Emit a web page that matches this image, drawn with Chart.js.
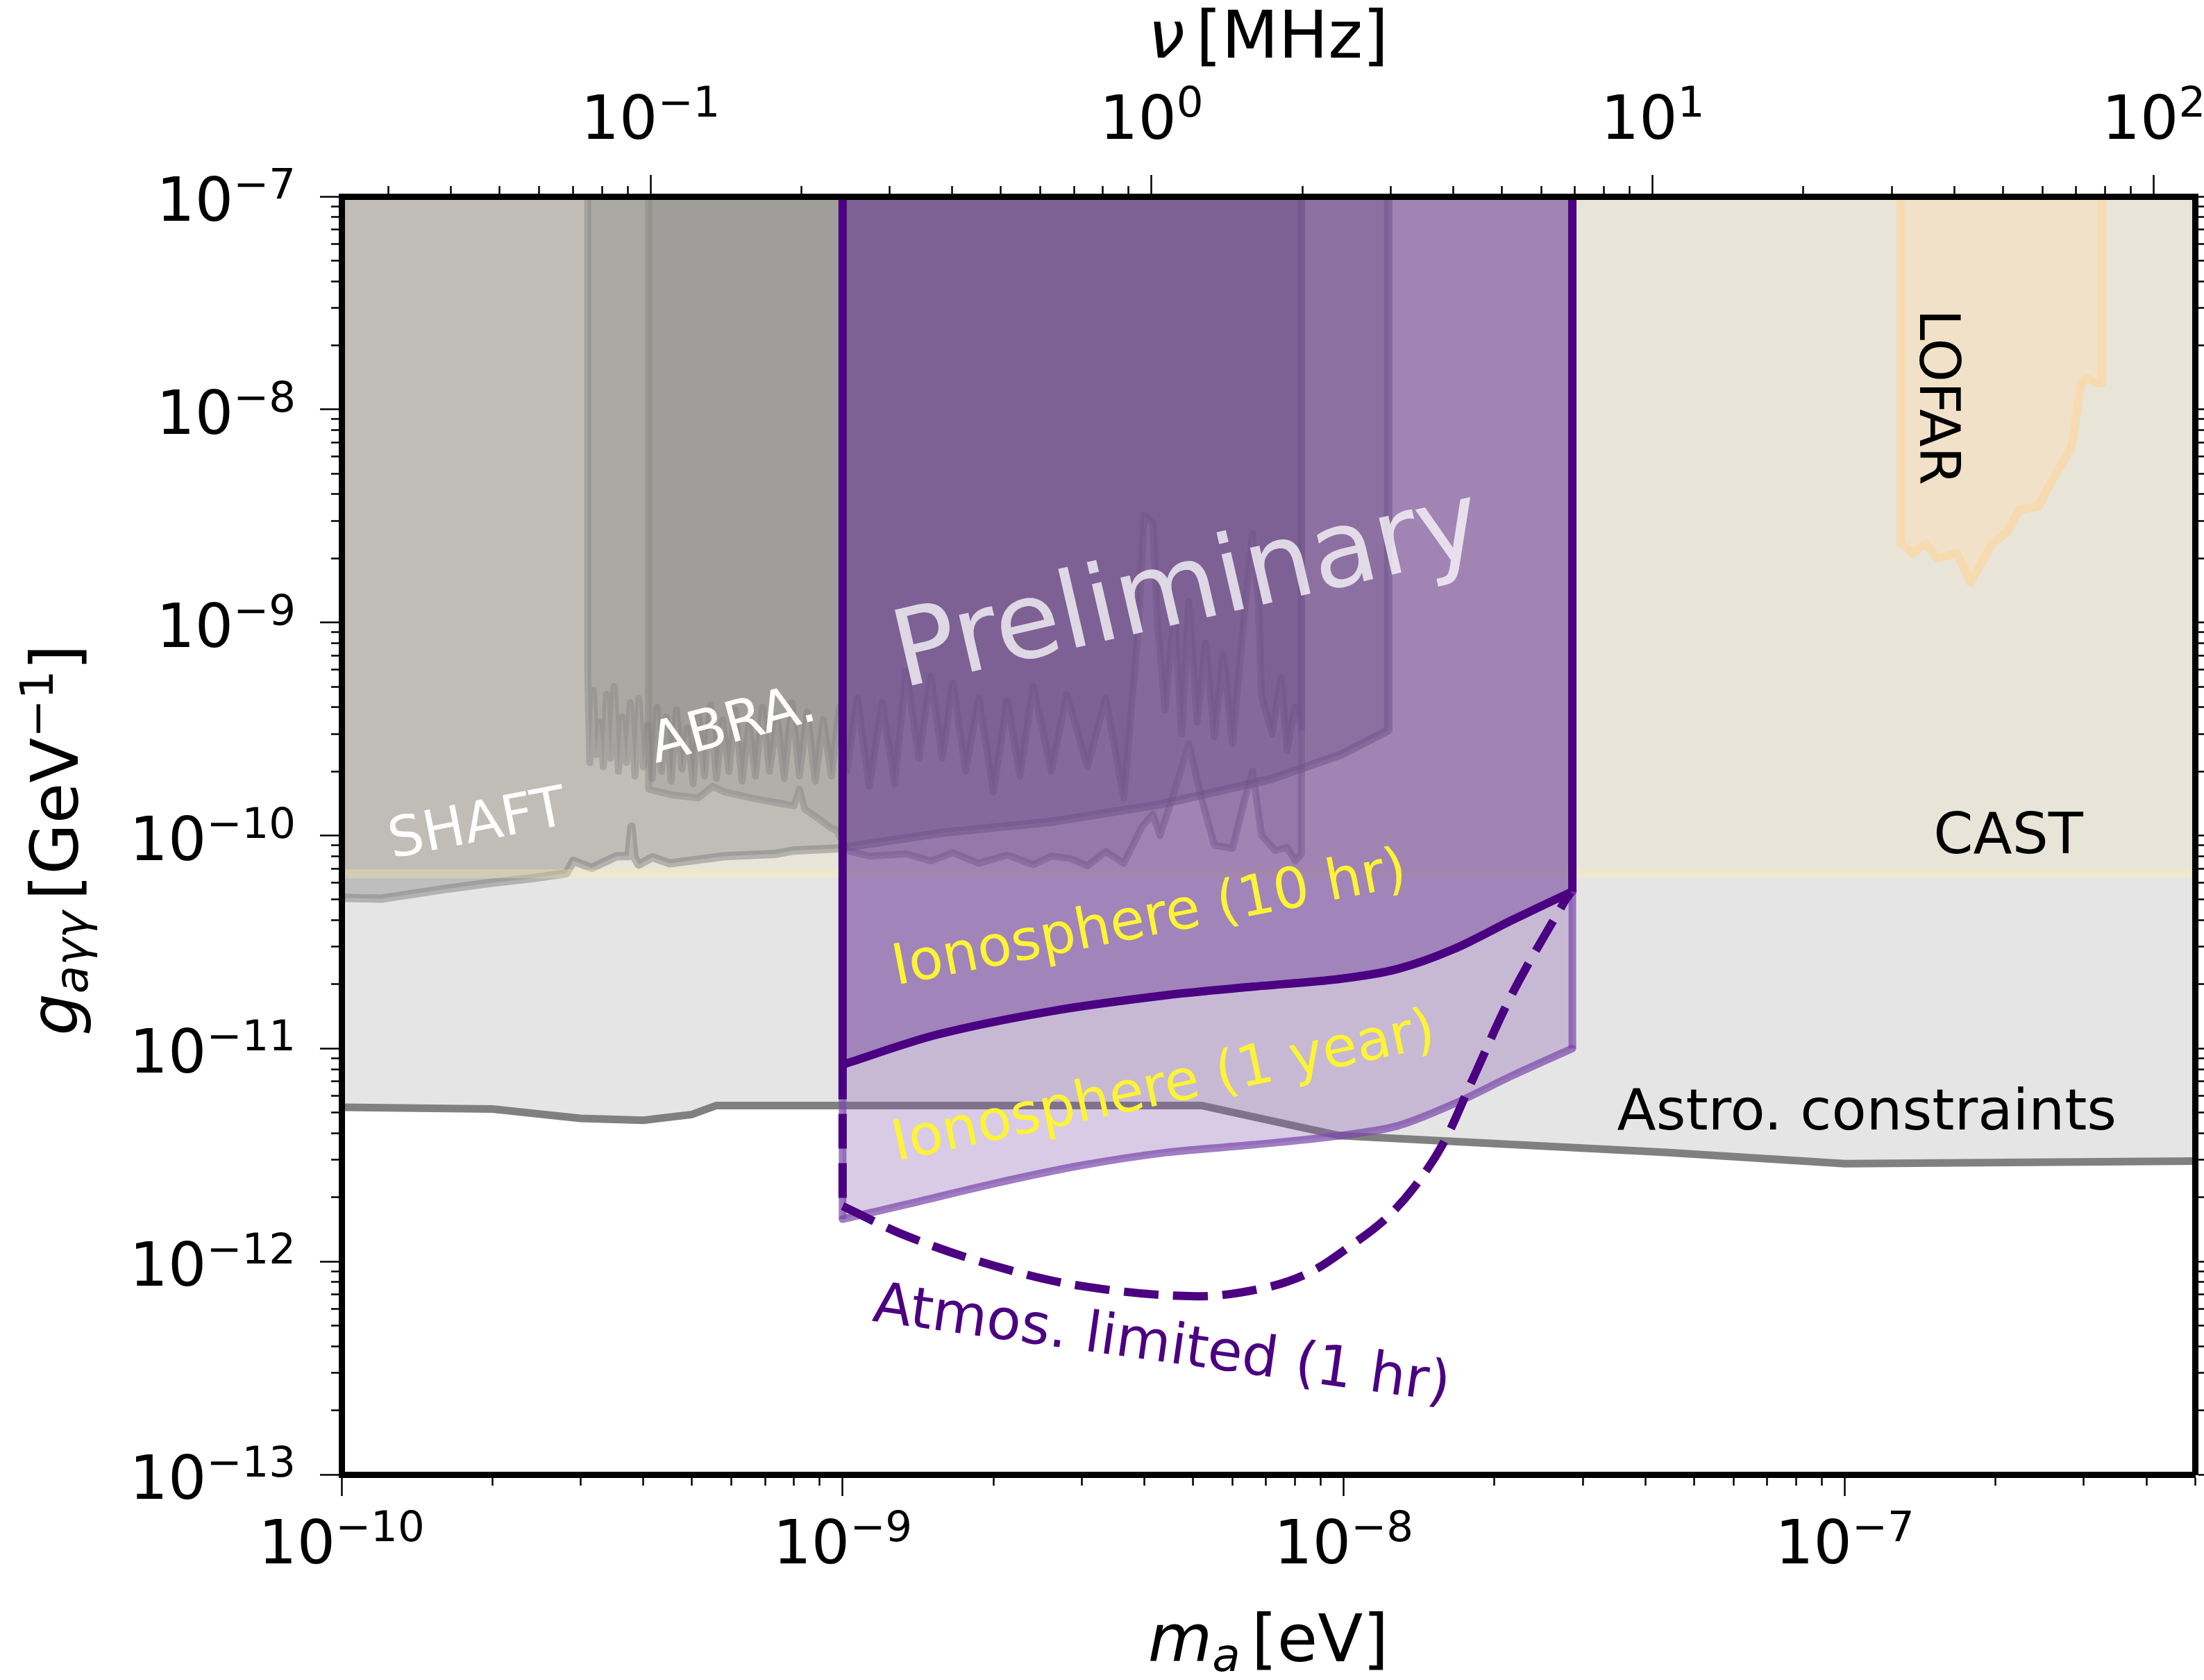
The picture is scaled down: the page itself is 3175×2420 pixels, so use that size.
<!DOCTYPE html>
<html>
<head>
<meta charset="utf-8">
<title>Axion-photon coupling limits</title>
<script src="https://cdn.jsdelivr.net/npm/chart.js@4.4.1/dist/chart.umd.min.js"></script>
<style>
  html, body { margin: 0; padding: 0; background: #fff; }
  #wrap { width: 3175px; height: 2420px; }
</style>
</head>
<body>
<div id="wrap"><canvas id="chart" width="3175" height="2420"></canvas></div>
<script>
// plot ranges
const massRange = [1e-10, 5e-7];        // m_a [eV]
const couplingRange = [1e-13, 1e-7];    // g [GeV^-1]

// tick labels (decades, written as exponents of 10)
const massTickExps = [-10, -9, -8, -7];
const couplingTickExps = [-13, -12, -11, -10, -9, -8, -7];
const freqTickExps = [-1, 0, 1, 2];     // nu [MHz]

// astrophysical bound
const astroMass = [1e-10, 2e-10, 3e-10, 4e-10, 5e-10, 5.6e-10, 5.2e-9, 9.8e-9, 4.4e-8, 1e-7, 5e-7];
const astroG = [5.3e-12, 5.2e-12, 4.7e-12, 4.6e-12, 4.9e-12, 5.4e-12, 5.4e-12, 3.9e-12, 3.25e-12, 2.88e-12, 2.96e-12];

// CAST
const castMass = [1e-10, 5e-7];
const castG = [6.6e-11, 6.6e-11];

// SHAFT
const shaftMass = [1e-10, 1.2e-10, 1.6e-10, 2e-10, 2.4e-10, 2.81e-10, 2.9e-10, 3.16e-10, 3.54e-10, 3.74e-10, 3.79e-10, 3.84e-10, 3.92e-10, 4.17e-10, 4.52e-10, 5.82e-10, 7.36e-10, 7.98e-10, 9.82e-10, 1.58e-9, 2.61e-9, 4.31e-9, 7.1e-9, 9.89e-9, 1.227e-8, 1.227e-8];
const shaftG = [5.1e-11, 5.05e-11, 5.6e-11, 6.0e-11, 6.3e-11, 6.64e-11, 7.6e-11, 7.05e-11, 8.0e-11, 8.0e-11, 1.1e-10, 7.9e-11, 7.3e-11, 7.9e-11, 7.4e-11, 8.0e-11, 8.2e-11, 8.5e-11, 8.7e-11, 1.03e-10, 1.16e-10, 1.4e-10, 1.83e-10, 2.4e-10, 3.12e-10, 1e-7];

// ABRACADABRA, first and second run
const abraAMass = [3.1e-10, 3.1e-10, 3.13e-10, 3.18e-10, 3.22e-10, 3.27e-10, 3.33e-10, 3.38e-10, 3.44e-10, 3.5e-10, 3.57e-10, 3.63e-10, 3.7e-10, 3.77e-10, 3.85e-10, 3.92e-10, 4.0e-10, 4.08e-10, 4.17e-10, 4.26e-10, 4.35e-10, 4.45e-10, 4.55e-10, 4.66e-10, 4.78e-10, 4.9e-10, 5.03e-10, 5.16e-10, 5.3e-10, 5.45e-10, 5.6e-10, 5.76e-10, 5.93e-10, 6.1e-10, 6.3e-10, 6.5e-10, 6.7e-10, 6.92e-10, 7.15e-10, 7.4e-10, 7.65e-10, 7.92e-10, 8.2e-10, 8.5e-10, 8.82e-10, 9.15e-10, 9.5e-10, 9.85e-10, 1.02e-9, 1.07e-9, 1.13e-9, 1.2e-9, 1.27e-9, 1.34e-9, 1.42e-9, 1.5e-9, 1.58e-9, 1.66e-9, 1.76e-9, 1.87e-9, 2.0e-9, 2.13e-9, 2.26e-9, 2.4e-9, 2.61e-9, 2.8e-9, 3.08e-9, 3.35e-9, 3.64e-9, 3.9e-9, 4.0e-9, 4.16e-9, 4.25e-9, 4.4e-9, 4.59e-9, 4.75e-9, 4.91e-9, 5.1e-9, 5.3e-9, 5.52e-9, 5.75e-9, 6.0e-9, 6.31e-9, 6.58e-9, 6.75e-9, 6.86e-9, 7.2e-9, 7.5e-9, 7.71e-9, 8.0e-9, 8.24e-9, 8.24e-9];
const abraAG = [1e-7, 5.6e-10, 2.2e-10, 4.8e-10, 2.4e-10, 3.4e-10, 2.1e-10, 4.6e-10, 2.3e-10, 5.0e-10, 2.0e-10, 3.6e-10, 2.2e-10, 4.2e-10, 1.9e-10, 4.4e-10, 2.1e-10, 3.3e-10, 1.85e-10, 4.0e-10, 2.0e-10, 3.6e-10, 1.8e-10, 3.9e-10, 2.05e-10, 3.2e-10, 1.75e-10, 3.7e-10, 1.9e-10, 4.1e-10, 1.85e-10, 3.5e-10, 2.0e-10, 3.9e-10, 1.8e-10, 3.3e-10, 1.9e-10, 4.0e-10, 2.0e-10, 3.6e-10, 1.85e-10, 4.2e-10, 1.9e-10, 3.8e-10, 1.8e-10, 3.5e-10, 1.9e-10, 4.0e-10, 2.0e-10, 4.4e-10, 1.7e-10, 4.2e-10, 1.75e-10, 5.9e-10, 2.3e-10, 5.6e-10, 2.3e-10, 5.2e-10, 2.0e-10, 4.4e-10, 1.6e-10, 4.3e-10, 1.9e-10, 5.0e-10, 2.0e-10, 4.6e-10, 2.1e-10, 4.4e-10, 1.5e-10, 1.0e-9, 3.2e-9, 2.9e-9, 1.0e-9, 3.9e-10, 1.1e-9, 3.0e-10, 1.25e-9, 3.4e-10, 8e-10, 2.9e-10, 7e-10, 2.7e-10, 1.0e-9, 2.6e-9, 1.3e-9, 4.5e-10, 3.0e-10, 5.5e-10, 2.5e-10, 4.0e-10, 3.2e-10, 1e-7];
const abraBMass = [4.1e-10, 4.1e-10, 4.56e-10, 5.15e-10, 5.5e-10, 5.82e-10, 6.57e-10, 7.44e-10, 8.0e-10, 8.2e-10, 8.4e-10, 9.04e-10, 9.5e-10, 9.73e-10, 1.02e-9, 1.13e-9, 1.34e-9, 1.5e-9, 1.66e-9, 1.87e-9, 2.13e-9, 2.4e-9, 2.61e-9, 2.85e-9, 3.08e-9, 3.35e-9, 3.64e-9, 3.96e-9, 4.16e-9, 4.3e-9, 4.59e-9, 4.91e-9, 5.2e-9, 5.52e-9, 6.0e-9, 6.31e-9, 6.58e-9, 6.86e-9, 7.3e-9, 7.71e-9, 8.0e-9, 8.24e-9, 8.24e-9];
const abraBG = [1e-7, 1.65e-10, 1.55e-10, 1.5e-10, 1.7e-10, 1.6e-10, 1.5e-10, 1.42e-10, 1.38e-10, 1.65e-10, 1.33e-10, 1.18e-10, 1.08e-10, 1.06e-10, 8.5e-11, 8.0e-11, 8.2e-11, 7.6e-11, 8.3e-11, 7.4e-11, 8.1e-11, 7.3e-11, 8.0e-11, 7.8e-11, 7.2e-11, 8.4e-11, 7.4e-11, 1.1e-10, 1.26e-10, 1.0e-10, 1.6e-10, 2.7e-10, 1.5e-10, 9.0e-11, 8.7e-11, 1.4e-10, 2.0e-10, 1.0e-10, 8.5e-11, 8.8e-11, 7.6e-11, 8.2e-11, 1e-7];

// LOFAR
const lofarMass = [1.294e-7, 1.294e-7, 1.368e-7, 1.452e-7, 1.531e-7, 1.675e-7, 1.782e-7, 1.968e-7, 2.113e-7, 2.228e-7, 2.438e-7, 2.547e-7, 2.838e-7, 2.965e-7, 3.048e-7, 3.184e-7, 3.266e-7, 3.266e-7];
const lofarG = [1e-7, 2.34e-9, 2.11e-9, 2.34e-9, 2.0e-9, 2.11e-9, 1.54e-9, 2.34e-9, 2.67e-9, 3.39e-9, 3.49e-9, 4.31e-9, 6.71e-9, 1.33e-8, 1.4e-8, 1.33e-8, 1.33e-8, 1e-7];

// ionosphere projections
const tenHrMass = [1e-9, 1.54e-9, 2.62e-9, 4.43e-9, 6.59e-9, 9.79e-9, 1.28e-8, 1.66e-8, 2.17e-8, 2.86e-8];
const tenHrG = [8.4e-12, 1.16e-11, 1.5e-11, 1.78e-11, 1.95e-11, 2.12e-11, 2.36e-11, 2.93e-11, 4.01e-11, 5.46e-11];
const oneYrMass = [1e-9, 1.35e-9, 2.0e-9, 2.98e-9, 4.43e-9, 6.59e-9, 9.79e-9, 1.28e-8, 1.66e-8, 2.17e-8, 2.86e-8];
const oneYrG = [1.58e-12, 1.86e-12, 2.32e-12, 2.82e-12, 3.25e-12, 3.53e-12, 3.89e-12, 4.33e-12, 5.5e-12, 7.46e-12, 1.0e-11];

// atmosphere limited (1 hr)
const atmosMass = [1e-9, 1.35e-9, 2.0e-9, 2.98e-9, 5.06e-9, 6.95e-9, 8.59e-9, 1.035e-8, 1.21e-8, 1.38e-8, 1.58e-8, 1.8e-8, 2.17e-8, 2.75e-8, 2.84e-8];
const atmosG = [1.82e-12, 1.31e-12, 9.57e-13, 7.69e-13, 6.87e-13, 7.52e-13, 8.93e-13, 1.19e-12, 1.58e-12, 2.22e-12, 3.58e-12, 6.98e-12, 1.81e-11, 4.84e-11, 5.4e-11];

const MHZ_TO_EV = 4.135667e-9;  // h * 1 MHz in eV
const FONT = '"DejaVu Sans", sans-serif';
const INDIGO = '#4b0082';

const notes = [
  { text: 'SHAFT', m: 1.87e-10, g: 1.1e-10, angle: -11, color: '#ffffff', size: 80 },
  { text: 'ABRA.', m: 6.06e-10, g: 3.23e-10, angle: -15, color: '#ffffff', size: 81 },
  { text: 'Preliminary', m: 4.89e-9, g: 1.37e-9, angle: -13, color: 'rgba(255,255,255,0.75)', size: 153 },
  { text: 'Ionosphere (10 hr)', m: 4.1e-9, g: 3.98e-11, angle: -11, color: '#fcf434', size: 81 },
  { text: 'Ionosphere (1 year)', m: 4.38e-9, g: 6.45e-12, angle: -12, color: '#fcf434', size: 81 },
  { text: 'Atmos. limited (1 hr)', m: 4.33e-9, g: 3.98e-13, angle: 8, color: INDIGO, size: 81 },
  { text: 'Astro. constraints', m: 1.107e-7, g: 4.88e-12, angle: 0, color: '#000000', size: 82 },
  { text: 'CAST', m: 2.12e-7, g: 9.7e-11, angle: 0, color: '#000000', size: 82 },
  { text: 'LOFAR', m: 1.51e-7, g: 1.14e-8, angle: 90, color: '#000000', size: 80 }
];

const pts = (xs, ys) => xs.map((x, i) => ({ x: x, y: ys[i] }));
const font = (size, italic) => (italic ? 'italic ' : '') + size + 'px ' + FONT;

function decadeTicks(lo, hi, expLo, expHi, scale) {
  const out = [];
  for (let e = expLo; e <= expHi; e++) {
    for (let s = 1; s <= 9; s++) {
      const v = s * Math.pow(10, e) * scale;
      if (v >= lo * 0.999999 && v <= hi * 1.000001) out.push({ value: v, major: s === 1 });
    }
  }
  return out;
}
const massTicks = decadeTicks(massRange[0], massRange[1], -10, -7, 1);
const couplingTicks = decadeTicks(couplingRange[0], couplingRange[1], -13, -7, 1);
const freqTicks = decadeTicks(massRange[0], massRange[1], -2, 2, MHZ_TO_EV);

function region(label, xs, ys, fillColor, lineColor, width, order, extra) {
  return Object.assign({
    label: label, data: pts(xs, ys), fill: 'end', backgroundColor: fillColor,
    borderColor: lineColor, borderWidth: width, pointRadius: 0, tension: 0, order: order,
    borderJoinStyle: 'round', borderCapStyle: 'round'
  }, extra || {});
}
function edge(label, xs, ys, color, width, order, extra) {
  return Object.assign({
    label: label, data: pts(xs, ys), fill: false, borderColor: color, borderWidth: width,
    pointRadius: 0, tension: 0, order: order, borderCapStyle: 'butt'
  }, extra || {});
}

const gTop = couplingRange[1];
const last = (a) => a[a.length - 1];
const datasets = [
  region('Astro', astroMass, astroG, '#e5e5e5', '#808080', 11, 20, { borderJoinStyle: 'miter' }),
  region('CAST', castMass, castG, '#e8e4d8', 'rgba(0,0,0,0)', 1, 19),
  region('SHAFT', shaftMass, shaftG, 'rgba(125,125,125,0.375)', 'rgba(128,128,128,0.5)', 12, 18),
  region('ABRA run 1', abraAMass, abraAG, 'rgba(120,120,120,0.3)', 'rgba(128,128,128,0.4)', 10, 17),
  region('ABRA run 2', abraBMass, abraBG, 'rgba(120,120,120,0.2)', 'rgba(128,128,128,0.4)', 10, 16),
  region('LOFAR', lofarMass, lofarG, 'rgba(255,222,173,0.35)', 'rgba(250,215,165,0.75)', 12, 15),
  edge('CAST edge', castMass, castG, 'rgba(255,240,170,0.3)', 13, 14),
  region('Ionosphere 1 year', oneYrMass, oneYrG, 'rgba(128,82,172,0.3)', 'rgba(120,70,170,0.7)', 11, 13, { tension: 0.3 }),
  region('Ionosphere 10 hr', tenHrMass, tenHrG, 'rgba(62,0,123,0.286)', INDIGO, 12, 12, { tension: 0.3 }),
  edge('1 year left', [oneYrMass[0], oneYrMass[0]], [tenHrG[0], oneYrG[0]], 'rgba(120,70,170,0.7)', 11, 11),
  edge('1 year right', [last(oneYrMass), last(oneYrMass)], [last(tenHrG), last(oneYrG)], 'rgba(120,70,170,0.7)', 11, 11),
  edge('Atmos', atmosMass, atmosG, INDIGO, 12, 10, { tension: 0.35, borderDash: [50, 21] }),
  edge('Atmos left', [atmosMass[0], atmosMass[0]], [tenHrG[0], atmosG[0]], INDIGO, 12, 9, { borderDash: [50, 21] }),
  edge('10 hr left', [tenHrMass[0], tenHrMass[0]], [gTop, tenHrG[0]], INDIGO, 12, 8),
  edge('10 hr right', [last(tenHrMass), last(tenHrMass)], [gTop, last(tenHrG)], INDIGO, 12, 8)
];

// minor ticks are short: dash away the outer part of the tick line
function tickGrid(outerFirst) {
  return {
    drawOnChartArea: false, drawTicks: true, tickLength: 31, tickWidth: 2.5, tickColor: '#000',
    tickBorderDash: (c) => (c.tick && c.tick.major) ? [] : (outerFirst ? [0, 16, 11, 300] : [11, 300])
  };
}
const spine = { display: true, color: '#000', width: 9, z: 1 };

function logAxis(position, range, tickList, size) {
  const horiz = position === 'top' || position === 'bottom';
  return {
    type: 'logarithmic', position: position, min: range[0], max: range[1], bounds: 'data',
    grid: tickGrid(position === 'top' || position === 'left'),
    border: spine,
    ticks: { display: false },
    title: { display: false },
    afterBuildTicks: (scale) => { scale.ticks = tickList.map(t => ({ value: t.value, major: t.major })); },
    afterFit: (scale) => { if (horiz) scale.height = size; else scale.width = size; }
  };
}

function supText(e) { return (e < 0 ? '\u2212' : '') + Math.abs(e); }

function drawPower(ctx, x, y, exp, align) {
  ctx.font = font(87);
  const w1 = ctx.measureText('10').width;
  const s = supText(exp);
  ctx.font = font(61);
  const w2 = ctx.measureText(s).width;
  const x0 = align === 'right' ? x - w1 - w2 : x - (w1 + w2) / 2;
  ctx.font = font(87);
  ctx.fillText('10', x0, y);
  ctx.font = font(61);
  ctx.fillText(s, x0 + w1, y - 32);
}

function drawRuns(ctx, runs, cx, cy, rot) {
  ctx.save();
  ctx.translate(cx, cy);
  ctx.rotate(rot);
  let total = 0;
  runs.forEach(r => { ctx.font = r.font; r.w = ctx.measureText(r.text).width; total += r.w; });
  let x = -total / 2;
  runs.forEach(r => { ctx.font = r.font; ctx.fillText(r.text, x, r.dy || 0); x += r.w; });
  ctx.restore();
}

const notesPlugin = {
  id: 'notes',
  afterDatasetsDraw(chart) {
    const ctx = chart.ctx;
    const xs = chart.scales.x, ys = chart.scales.y;
    ctx.save();
    ctx.textAlign = 'center';
    ctx.textBaseline = 'middle';
    notes.forEach(n => {
      ctx.save();
      ctx.translate(xs.getPixelForValue(n.m), ys.getPixelForValue(n.g));
      ctx.rotate(n.angle * Math.PI / 180);
      ctx.font = font(n.size);
      ctx.fillStyle = n.color;
      ctx.fillText(n.text, 0, 0);
      ctx.restore();
    });
    ctx.restore();
  }
};

const axisTextPlugin = {
  id: 'axisText',
  afterDraw(chart) {
    const ctx = chart.ctx;
    const {x, y, xTop} = chart.scales;
    ctx.save();
    ctx.fillStyle = '#000';
    ctx.textAlign = 'left';
    ctx.textBaseline = 'alphabetic';
    massTickExps.forEach(e => drawPower(ctx, x.getPixelForValue(Math.pow(10, e)), 2252, e, 'center'));
    freqTickExps.forEach(e => drawPower(ctx, xTop.getPixelForValue(Math.pow(10, e) * MHZ_TO_EV), 200, e, 'center'));
    couplingTickExps.forEach(e => drawPower(ctx, 426, y.getPixelForValue(Math.pow(10, e)) + 35, e, 'right'));

    const cx = (chart.chartArea.left + chart.chartArea.right) / 2;
    const gap = { text: ' ', font: font(50) };
    drawRuns(ctx, [
      { text: '\u03bd', font: font(95, true) }, gap,
      { text: '[MHz]', font: font(95) }
    ], cx, 83, 0);
    drawRuns(ctx, [
      { text: 'm', font: font(95, true) },
      { text: 'a', font: font(66, true), dy: 14 }, gap,
      { text: '[eV]', font: font(95) }
    ], cx, 2393, 0);
    drawRuns(ctx, [
      { text: 'g', font: font(95, true) },
      { text: 'a\u03b3\u03b3', font: font(66, true), dy: 14 }, gap,
      { text: '[GeV', font: font(95) },
      { text: '\u22121', font: font(66), dy: -36 },
      { text: ']', font: font(95) }
    ], 112, 1210, -Math.PI / 2);
    ctx.restore();
  }
};

const config = {
  type: 'line',
  data: { datasets: datasets },
  options: {
    responsive: false,
    devicePixelRatio: 1,
    animation: false,
    layout: { padding: 0 },
    plugins: { legend: { display: false }, tooltip: { enabled: false } },
    scales: {
      x: logAxis('bottom', massRange, massTicks, 296),
      xTop: logAxis('top', massRange, freqTicks, 283),
      y: logAxis('left', couplingRange, couplingTicks, 492),
      yRight: logAxis('right', couplingRange, couplingTicks, 13)
    }
  },
  plugins: [notesPlugin, axisTextPlugin]
};

const chartCtx = document.getElementById('chart').getContext('2d');
const myChart = new Chart(chartCtx, config);
</script>
</body>
</html>
